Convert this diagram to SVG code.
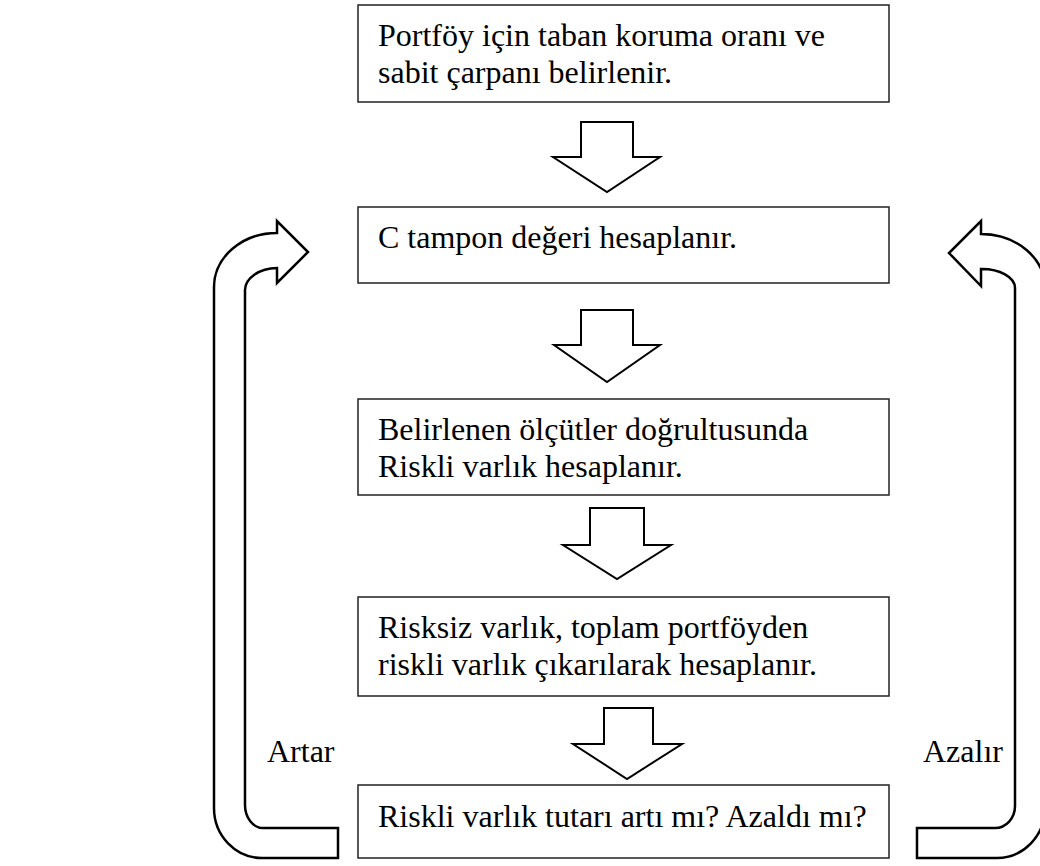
<svg xmlns="http://www.w3.org/2000/svg" width="1040" height="866" viewBox="0 0 1040 866">
<style>
.box{fill:#fff;stroke:#222;stroke-width:1.5}
.arr{fill:#fff;stroke:#000;stroke-width:2;stroke-linejoin:miter}
.loop{fill:#fff;stroke:#000;stroke-width:2.5;stroke-linejoin:miter}
text{font-family:"Liberation Serif","Times New Roman",serif;font-size:32px;fill:#000}
</style>
<rect width="1040" height="866" fill="#fff"/>
<g id="connectors">
<path class="arr" d="M581,122 H633 V157 H660 L607,192 L553,157 H581 Z"/>
<path class="arr" d="M581,310 H633 V345 H660 L607,382 L554,345 H581 Z"/>
<path class="arr" d="M590,508 H644 V545 H671 L617,579 L563,545 H590 Z"/>
<path class="arr" d="M604,708 H653 V744 H682 L627,779 L573,744 H604 Z"/>
<path class="loop" d="M277,233 A63,54 0 0 0 214,287 V808 A48,50 0 0 0 262,858 H338 V828 H263 A18,23 0 0 1 245,805 V290 A33,22 0 0 1 277,268 V283 L308,252 L277,221 Z"/>
<path class="loop" d="M981,234 A64,54 0 0 1 1045,288 V808 A48,50 0 0 1 997,858 H917 V828 H995 A20,22 0 0 0 1015,806 V288 A33,19 0 0 0 981,269 V286 L949,253 L981,221 Z"/>
</g>
<g id="n1"><rect class="box" x="358" y="5" width="531" height="97"/><text x="378" y="46">Portföy için taban koruma oranı ve</text><text x="378" y="83">sabit çarpanı belirlenir.</text></g>
<g id="n2"><rect class="box" x="358" y="207" width="531" height="76"/><text x="378" y="248">C tampon değeri hesaplanır.</text></g>
<g id="n3"><rect class="box" x="358" y="399" width="531" height="96"/><text x="378" y="440">Belirlenen ölçütler doğrultusunda</text><text x="378" y="477">Riskli varlık hesaplanır.</text></g>
<g id="n4"><rect class="box" x="358" y="597" width="531" height="99"/><text x="378" y="638">Risksiz varlık, toplam portföyden</text><text x="378" y="675">riskli varlık çıkarılarak hesaplanır.</text></g>
<g id="n5"><rect class="box" x="358" y="785" width="531" height="73"/><text x="378" y="827">Riskli varlık tutarı artı mı? Azaldı mı?</text></g>
<g id="labels"><text x="267" y="762">Artar</text><text x="923" y="762">Azalır</text></g>
</svg>
